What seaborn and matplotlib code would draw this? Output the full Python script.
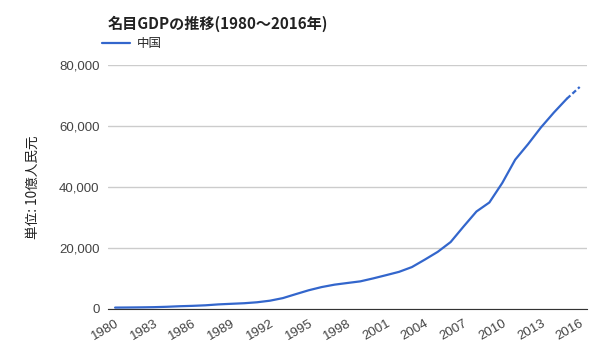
import matplotlib
matplotlib.use('Agg')
import matplotlib.pyplot as plt
import seaborn as sns
import pandas as pd
from matplotlib.ticker import FuncFormatter

years = list(range(1980, 2017))
gdp = [458, 489, 532, 596, 721, 902, 1028, 1206, 1504, 1700,
       1887, 2201, 2719, 3567, 4864, 6134, 7181, 7972, 8520, 9056,
       10028, 11086, 12172, 13742, 16184, 18732, 21944, 27023, 31952, 34908,
       41303, 48930, 54037, 59524, 64397, 68905, 72763]
n_actual = 36  # last point is an estimate (dashed)

df = pd.DataFrame({'year': years, 'gdp': gdp})

sns.set_style("white")
plt.rcParams['font.family'] = ['Noto Sans CJK JP', 'DejaVu Sans']
num_font = ['Liberation Sans', 'DejaVu Sans']

color = '#3366cc'
fig = plt.figure(figsize=(6, 3.6), dpi=100)
ax = fig.add_axes([0.18, 0.1417, 0.798, 0.678])

sns.lineplot(data=df.iloc[:n_actual], x='year', y='gdp', ax=ax, color=color, lw=1.6, label='中国')
sns.lineplot(data=df.iloc[n_actual - 1:], x='year', y='gdp', ax=ax, color=color, lw=1.6,
             linestyle=(0, (2.2, 1.2)), legend=False)

ax.set_xlim(1979.45, 2016.55)
ax.set_ylim(0, 80000)
ax.set_yticks([0, 20000, 40000, 60000, 80000])
ax.yaxis.set_major_formatter(FuncFormatter(lambda v, p: f'{int(v):,}'))
ax.set_xticks(list(range(1980, 2017, 3)))
ax.grid(axis='y', color='#cccccc', lw=1)
ax.set_axisbelow(True)
for s in ['left', 'right', 'top']:
    ax.spines[s].set_visible(False)
ax.spines['bottom'].set_color('#333333')
ax.tick_params(axis='both', length=0, colors='#444444', pad=6)
for lab in ax.get_xticklabels() + ax.get_yticklabels():
    lab.set_family(num_font)
    lab.set_fontsize(9.5)
plt.setp(ax.get_xticklabels(), rotation=30, ha='right', rotation_mode='anchor')
ax.set_xlabel('')
ax.set_ylabel('単位: 10億人民元', fontsize=9.8, color='#222222', labelpad=14)

fig.text(0.18, 0.935, '名目GDPの推移(1980〜2016年)', fontsize=10.9, fontweight='bold',
         color='#222222', va='center')
ax.legend(loc='lower left', bbox_to_anchor=(-0.012, 1.06), frameon=False, fontsize=9,
          handlelength=2.2, handletextpad=0.6, borderaxespad=0, borderpad=0)

fig.savefig('out.png', dpi=100)
